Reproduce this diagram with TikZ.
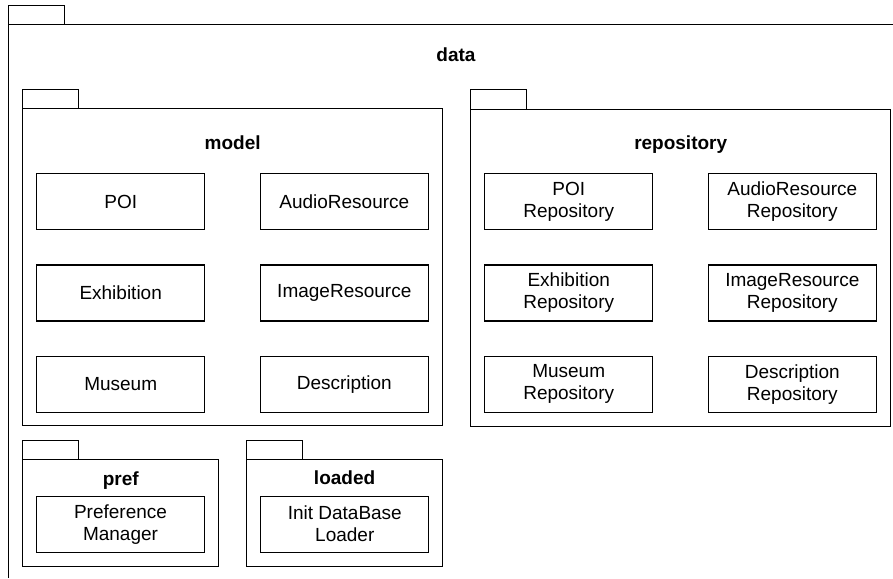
\documentclass[tikz,border=0pt]{standalone}
\usepackage{fontspec}
\setmainfont{Liberation Sans}
\usetikzlibrary{positioning}

\newcommand\pkgtab[1]{\draw[pkgline] (#1.north west) rectangle ++(56,-19.3);}

\begin{document}
\begin{tikzpicture}[
  x=1pt, y=-1pt,
  node distance=35.3pt and 55.6pt,
  pkgline/.style={draw=black, line width=1.1pt},
  pkg/.style={pkgline, inner sep=0pt, outer sep=0pt},
  cls/.style={draw=black, line width=1.1pt, outer sep=0pt, minimum width=168pt, minimum height=56pt, align=center, inner sep=2pt, font=\fontsize{19}{22}\selectfont},
  title/.style={anchor=base, inner sep=0pt, font=\fontsize{19}{22}\selectfont\bfseries}
]
\useasboundingbox (0,0) rectangle (893,578);

% packages (data runs off the page to the right and bottom)
\node[inner sep=0pt, outer sep=0pt, minimum width=896pt, minimum height=580pt] (data) at (456.3,314.7) {};
\draw[pkgline] (0,0 -| data.west) ++(0,578) |- (893,0 |- data.north);
\pkgtab{data}
\node[title] (datatitle) at (456,61.7) {data};

\node[pkg, minimum width=420pt, minimum height=317pt] (model) at (232.7,267.4) {};
\pkgtab{model}
\node[title] (modeltitle) at (232.7,149) {model};

\node[pkg, minimum width=420pt, minimum height=317pt] (repo) at (680.7,267.6) {};
\pkgtab{repo}
\node[title] (repotitle) at (680.7,149) {repository};

\node[pkg, minimum width=196pt, minimum height=106.7pt] (pref) at (120.7,512.7) {};
\pkgtab{pref}
\node[title] (preftitle) at (120.7,485) {pref};

\node[pkg, minimum width=196pt, minimum height=106.7pt] (loaded) at (344.6,512.7) {};
\pkgtab{loaded}
\node[title] (loadedtitle) at (344.6,484.5) {loaded};

% model classes
\node[cls] (poi) at (120.7,201.7) {POI};
\node[cls, right=of poi] (audio) {AudioResource};
\node[cls, below=of poi] (exhibition) {Exhibition};
\node[cls, right=of exhibition] (image) {ImageResource};
\node[cls, below=of exhibition] (museum) {Museum};
\node[cls, right=of museum] (description) {Description};

% repository classes
\node[cls] (poirepo) at (568.7,201.7) {POI\\Repository};
\node[cls, right=of poirepo] (audiorepo) {AudioResource\\Repository};
\node[cls, below=of poirepo] (exhibitionrepo) {Exhibition\\Repository};
\node[cls, right=of exhibitionrepo] (imagerepo) {ImageResource\\Repository};
\node[cls, below=of exhibitionrepo] (museumrepo) {Museum\\Repository};
\node[cls, right=of museumrepo] (descriptionrepo) {Description\\Repository};

\node[cls] (prefmanager) at (120.5,524.2) {Preference\\Manager};
\node[cls] (dbloader) at (344.8,524.2) {Init DataBase\\Loader};
\end{tikzpicture}
\end{document}
